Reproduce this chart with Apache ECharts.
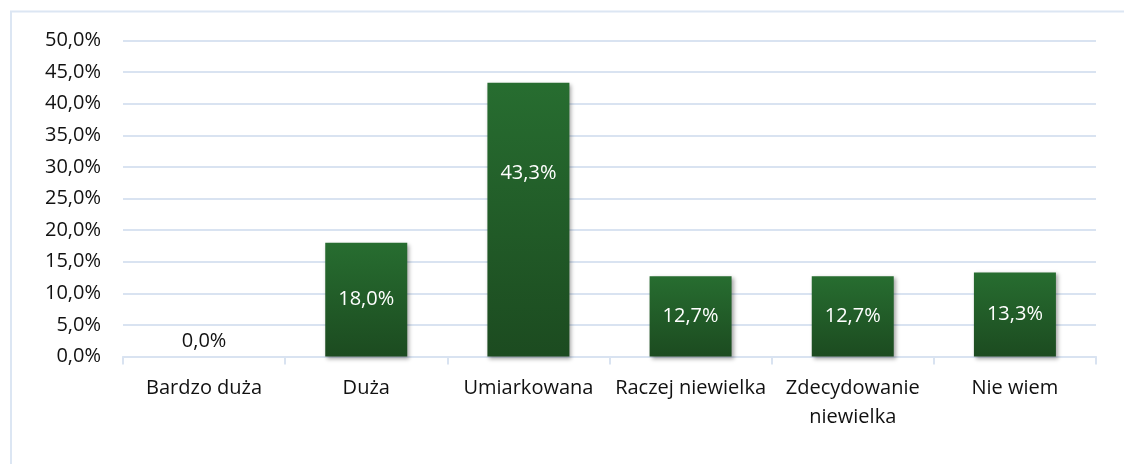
<!DOCTYPE html>
<html>
<head>
<meta charset="utf-8">
<script src="https://cdn.jsdelivr.net/npm/echarts@6/dist/echarts.min.js"></script>
<style>
html,body{margin:0;padding:0;background:#fff;}
#chart{width:1124px;height:464px;}
</style>
</head>
<body>
<div id="chart"></div>
<script>
const categories = ['Bardzo duża', 'Duża', 'Umiarkowana', 'Raczej niewielka', 'Zdecydowanie\nniewielka', 'Nie wiem'];
const values = [0.0, 18.0, 43.3, 12.7, 12.7, 13.3];
const yTicks = { min: 0, max: 50, interval: 5 };

const FONT = '"Open Sans", sans-serif';
const fmt = v => v.toFixed(1).replace('.', ',') + '%';

const data = values.map((v, i) => {
  const item = { value: v };
  if (v === 0) {
    item.label = { position: 'top', color: '#111111' };
  } else if (i === 2) {
    item.label = { offset: [0, -46] };
  }
  return item;
});

const chart = echarts.init(document.getElementById('chart'), null, { renderer: 'canvas' });
chart.setOption({
  animation: false,
  backgroundColor: '#ffffff',
  graphic: [{
    type: 'rect',
    shape: { x: 11, y: 11.5, width: 1300, height: 600 },
    style: { fill: 'none', stroke: '#dce6f3', lineWidth: 2 },
    silent: true
  }],
  grid: { left: 123, right: 28, top: 40.5, bottom: 107.5, containLabel: false },
  xAxis: {
    type: 'category',
    data: categories,
    axisLine: { show: true, lineStyle: { color: '#d9e3f1', width: 2 } },
    axisTick: { show: true, alignWithLabel: false, length: 8, lineStyle: { color: '#d9e3f1', width: 2 } },
    axisLabel: { color: '#111111', fontFamily: FONT, fontSize: 20, margin: 17, lineHeight: 29, interval: 0 }
  },
  yAxis: {
    type: 'value',
    min: yTicks.min, max: yTicks.max, interval: yTicks.interval,
    axisLine: { show: false },
    axisTick: { show: false },
    splitLine: { lineStyle: { color: '#d9e3f1', width: 2 } },
    axisLabel: { color: '#111111', fontFamily: FONT, fontSize: 20, margin: 22, formatter: v => fmt(v) }
  },
  series: [{
    type: 'bar',
    data: data,
    barWidth: 82,
    itemStyle: {
      color: new echarts.graphic.LinearGradient(0, 0, 0, 1, [
        { offset: 0, color: '#276d30' },
        { offset: 1, color: '#1c4b20' }
      ]),
      shadowColor: 'rgba(0,0,0,0.35)',
      shadowBlur: 4,
      shadowOffsetX: 2,
      shadowOffsetY: 2
    },
    label: {
      show: true,
      position: 'inside',
      color: '#ffffff',
      fontFamily: FONT,
      fontSize: 20,
      formatter: p => fmt(p.value)
    }
  }]
});
</script>
</body>
</html>
